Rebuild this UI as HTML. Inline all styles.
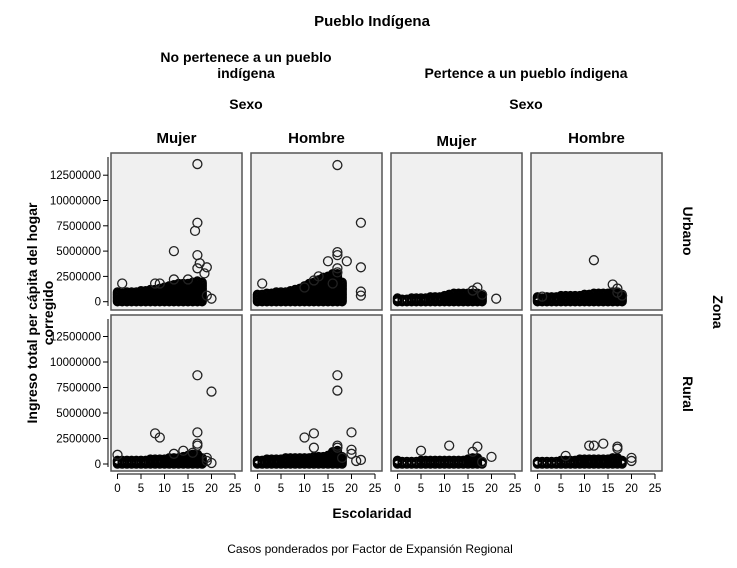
<!DOCTYPE html>
<html><head><meta charset="utf-8"><style>
body{margin:0;background:#fff;}
svg{display:block;font-family:"Liberation Sans",Arial,sans-serif;}
</style></head><body>
<svg id="c" width="737" height="568"></svg>
<script>
const xTicks=[0,5,10,15,20,25];
const yTicks=[0,2500000,5000000,7500000,10000000,12500000];
const yTickLabels=["0","2500000","5000000","7500000","10000000","12500000"];
const colHeads=["Mujer","Hombre","Mujer","Hombre"];
const rowHeads=["Urbano","Rural"];
// band tops (dense cluster max) per escolaridad 0..18
const band1=[1.0e6,0.9e6,1.0e6,1.0e6,1.0e6,1.1e6,1.1e6,1.2e6,1.3e6,1.4e6,1.5e6,1.6e6,1.7e6,1.8e6,1.8e6,1.9e6,2.0e6,2.1e6,2.0e6];
const band2=[0.8e6,0.8e6,0.9e6,0.9e6,1.0e6,1.0e6,1.0e6,1.1e6,1.2e6,1.4e6,1.6e6,1.8e6,2.0e6,2.2e6,2.4e6,2.6e6,2.8e6,2.8e6,2.0e6];
const band3=[0.4e6,0.3e6,0.3e6,0.4e6,0.4e6,0.4e6,0.4e6,0.5e6,0.5e6,0.5e6,0.6e6,0.8e6,0.9e6,0.9e6,0.9e6,0.9e6,0.9e6,0.9e6,0.6e6];
const band4=[0.5e6,0.4e6,0.5e6,0.5e6,0.5e6,0.6e6,0.6e6,0.7e6,0.7e6,0.7e6,0.8e6,0.8e6,0.9e6,0.9e6,0.9e6,0.9e6,1.0e6,1.0e6,0.8e6];
const band5=[0.4e6,0.4e6,0.4e6,0.4e6,0.4e6,0.4e6,0.4e6,0.5e6,0.5e6,0.5e6,0.5e6,0.6e6,0.7e6,0.7e6,0.8e6,0.9e6,1.0e6,1.0e6,0.6e6];
const band6=[0.4e6,0.4e6,0.5e6,0.5e6,0.5e6,0.5e6,0.6e6,0.6e6,0.6e6,0.6e6,0.6e6,0.7e6,0.8e6,0.8e6,0.8e6,0.9e6,1.2e6,1.4e6,0.8e6];
const band7=[0.4e6,0.3e6,0.3e6,0.3e6,0.3e6,0.4e6,0.4e6,0.4e6,0.4e6,0.4e6,0.4e6,0.4e6,0.4e6,0.4e6,0.4e6,0.5e6,0.6e6,0.6e6,0.3e6];
const band8=[0.3e6,0.3e6,0.3e6,0.3e6,0.3e6,0.4e6,0.4e6,0.4e6,0.4e6,0.5e6,0.5e6,0.5e6,0.5e6,0.5e6,0.5e6,0.5e6,0.6e6,0.6e6,0.4e6];
const out1X=[17,17,16.5,12,17,17.5,17,19,18.5,1,9,12,20,19,8,15];
const out1Y=[13.6e6,7.8e6,7.0e6,5.0e6,4.6e6,3.8e6,3.3e6,3.4e6,2.8e6,1.8e6,1.8e6,2.2e6,0.3e6,0.6e6,1.8e6,2.2e6];
const out2X=[17,22,17,17,19,15,17,22,1,17,22,22,12,16,10,13];
const out2Y=[13.5e6,7.8e6,4.9e6,4.6e6,4.0e6,4.0e6,3.3e6,3.4e6,1.8e6,2.9e6,1.0e6,0.6e6,2.1e6,1.8e6,1.4e6,2.5e6];
const out3X=[17,18,21,16];
const out3Y=[1.4e6,0.7e6,0.3e6,1.1e6];
const out4X=[12,16,17,18,1,17];
const out4Y=[4.1e6,1.7e6,1.3e6,0.6e6,0.5e6,0.9e6];
const out5X=[17,20,8,9,17,17,17,14,16,12,0,19,19,20];
const out5Y=[8.7e6,7.1e6,3.0e6,2.6e6,3.1e6,2.0e6,1.8e6,1.3e6,1.1e6,1.0e6,0.9e6,0.6e6,0.3e6,0.1e6];
const out6X=[17,17,20,12,10,12,17,20,20,21,22,18,17];
const out6Y=[8.7e6,7.2e6,3.1e6,3.0e6,2.6e6,1.6e6,1.8e6,1.4e6,1.0e6,0.3e6,0.4e6,0.6e6,1.6e6];
const out7X=[11,17,5,16,20,18];
const out7Y=[1.8e6,1.7e6,1.3e6,1.2e6,0.7e6,0.2e6];
const out8X=[11,12,14,17,17,20,20,6];
const out8Y=[1.8e6,1.8e6,2.0e6,1.7e6,1.5e6,0.6e6,0.3e6,0.8e6];
const bands=[band1,band2,band3,band4,band5,band6,band7,band8];
const outX=[out1X,out2X,out3X,out4X,out5X,out6X,out7X,out8X];
const outY=[out1Y,out2Y,out3Y,out4Y,out5Y,out6Y,out7Y,out8Y];

const NS="http://www.w3.org/2000/svg";
const svg=document.getElementById('c');
function el(t,a,p){const e=document.createElementNS(NS,t);for(const k in a)e.setAttribute(k,a[k]);(p||svg).appendChild(e);return e;}
function txt(s,x,y,sz,bold,anchor,rot){const a={x:x,y:y,'font-size':sz,'text-anchor':anchor||'middle',fill:'#000'};if(bold)a['font-weight']='bold';if(rot)a.transform='rotate('+rot+' '+x+' '+y+')';const t=el('text',a);t.textContent=s;return t;}

const colX=[111,251,391,531], PW=131;
const rows=[{top:153,bot:310,zero:301.7,pxPer:25.3/2.5e6},{top:315,bot:471,zero:464,pxPer:25.5/2.5e6}];
function xs(c,v){return colX[c]+6.5+v*4.7;}
function ys(r,v){return rows[r].zero-v*rows[r].pxPer;}

let t;
t=txt("Pueblo Indígena",372,26,15,true);


t=txt("No pertenece a un pueblo",246,62,14,true);


t=txt("indígena",246,78,14,true);


t=txt("Pertence a un pueblo índigena",526,78,14,true);


t=txt("Sexo",246,109,14,true);


t=txt("Sexo",526,109,14,true);


const headY=[143,143,146,143];
for(let c=0;c<4;c++){
  t=txt(colHeads[c],colX[c]+PW/2,headY[c],15,true);
  
  
}
t=txt("Urbano",683,231,14,true,'middle',90);


t=txt("Rural",683,394,14,true,'middle',90);


t=txt("Zona",713,312,14,true,'middle',90);


t=txt("Ingreso total per cápita del hogar",37,313,14,true,'middle',-90);


t=txt("corregido",53,313,14,true,'middle',-90);


t=txt("Escolaridad",372,518,14,true);


t=txt("Casos ponderados por Factor de Expansión Regional",370,553,12,false);



for(let r=0;r<2;r++){
  const R=rows[r];
  const ax=el('g',{});
  
  
  el('line',{x1:108,x2:108,y1:R.top+4,y2:R.bot-4,stroke:'#000','stroke-width':1},ax);
  for(let i=0;i<yTicks.length;i++){
    const y=ys(r,yTicks[i]);
    el('line',{x1:103,x2:108,y1:y,y2:y,stroke:'#000'},ax);
    const l=txt(yTickLabels[i],101,y+4,11.5,false,'end');
    ax.appendChild(l);
  }
  for(let c=0;c<4;c++){
    const p=r*4+c;
    const g=el('g',{});
    
    
    el('rect',{x:colX[c],y:R.top,width:PW,height:R.bot-R.top,fill:'#f0f0f0',stroke:'#555','stroke-width':1.5},g);
    const b=bands[p];
    for(let xv=0;xv<b.length;xv++){
      for(let v=0;v<=b[xv];v+=120000){
        const ci=el('circle',{cx:xs(c,xv),cy:ys(r,v),r:4,fill:'none',stroke:'#000','stroke-width':1.5},g);
        
        
      }
    }
    for(let i=0;i<outX[p].length;i++){
      const ci=el('circle',{cx:xs(c,outX[p][i]),cy:ys(r,outY[p][i]),r:4.5,fill:'none',stroke:'#222','stroke-width':1.3},g);
      
      
    }
    if(r===1){
      const xa=el('g',{});
      
      
      el('line',{x1:xs(c,0),x2:xs(c,25),y1:474,y2:474,stroke:'#000'},xa);
      for(const v of xTicks){
        el('line',{x1:xs(c,v),x2:xs(c,v),y1:474,y2:479,stroke:'#000'},xa);
        xa.appendChild(txt(String(v),xs(c,v),492,11.5,false));
      }
    }
  }
}
</script>
</body></html>
